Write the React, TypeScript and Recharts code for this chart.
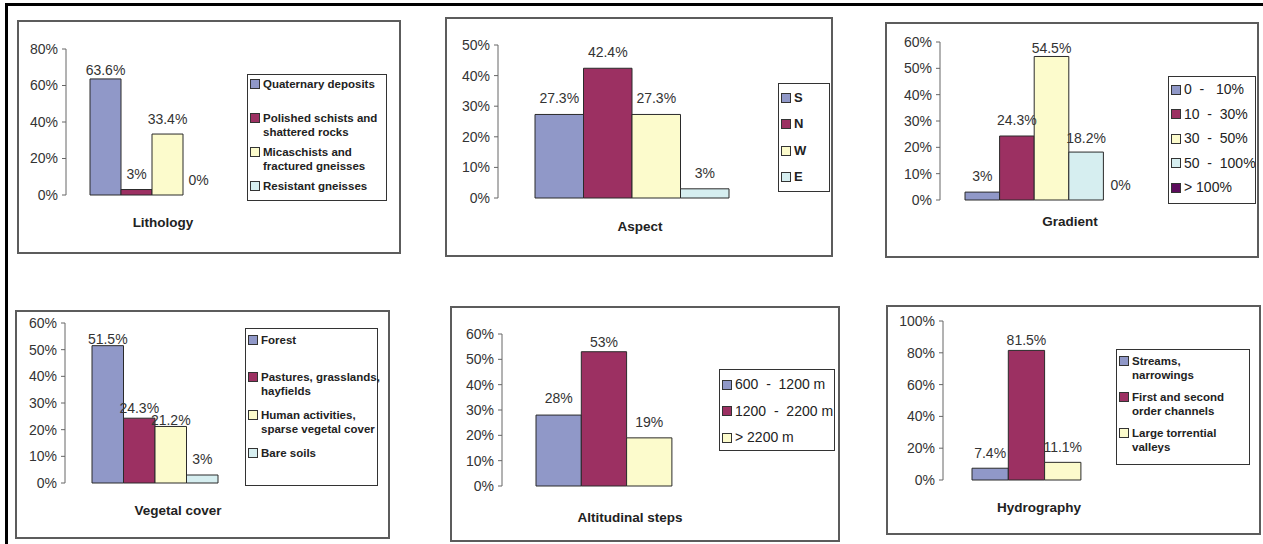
import { BarChart, Bar, XAxis, YAxis, LabelList, Rectangle } from 'recharts';

const FONT = '"Liberation Sans", Arial, sans-serif';
const COLORS = ['#9098c8', '#9c3062', '#fcfbcc', '#d6eef0', '#5c0c5c'];

// chart values
const lithologyClasses = ['Quaternary deposits', 'Polished schists and\nshattered rocks', 'Micaschists and\nfractured gneisses', 'Resistant gneisses'];
const lithologyShares = [63.6, 3, 33.4, 0];
const lithologyTicks = [0, 20, 40, 60, 80];

const aspectClasses = ['S', 'N', 'W', 'E'];
const aspectShares = [27.3, 42.4, 27.3, 3];
const aspectTicks = [0, 10, 20, 30, 40, 50];

const gradientClasses = ['0  -   10%', '10  -  30%', '30  -  50%', '50  -  100%', '> 100%'];
const gradientShares = [3, 24.3, 54.5, 18.2, 0];
const gradientTicks = [0, 10, 20, 30, 40, 50, 60];

const vegetalClasses = ['Forest', 'Pastures, grasslands,\nhayfields', 'Human activities,\nsparse vegetal cover', 'Bare soils'];
const vegetalShares = [51.5, 24.3, 21.2, 3];
const vegetalTicks = [0, 10, 20, 30, 40, 50, 60];

const altitudeClasses = ['600  -  1200 m', '1200  -  2200 m', '> 2200 m'];
const altitudeShares = [28, 53, 19];
const altitudeTicks = [0, 10, 20, 30, 40, 50, 60];

const hydroClasses = ['Streams,\nnarrowings', 'First and second\norder channels', 'Large torrential\nvalleys'];
const hydroShares = [7.4, 81.5, 11.1];
const hydroTicks = [0, 20, 40, 60, 80, 100];

interface Layout {
    box: [number, number, number, number];
    plot: [number, number, number, number];
    legend: [number, number, number, number];
    legendPad: number;
    legendStep: number;
    legendSize: number;
    legendBold: boolean;
    titleAt: [number, number];
    barSize: number;
    lift: number[];
}

const AXIS_W = 44;

const valueLabel = (lift: number) => (props: any) => {
    const { x, y, width, height, value } = props;
    // zero-height bars get a hairline from minPointSize; keep the label on the axis
    const topY = Number(y) + (Number(height) < 1 ? Number(height) : 0);
    return (
        <text
            x={Number(x) + Number(width) / 2}
            y={topY - lift}
            dy="0.35em"
            textAnchor="middle"
            fontSize={14}
            fill="#333"
            fontFamily={FONT}
        >
            {`${value}%`}
        </text>
    );
};

// empty classes are not drawn, only labelled
const barShape = (props: any) => (Number(props.value) === 0 ? <g /> : <Rectangle {...props} />);

function Panel({ title, classes, shares, ticks, layout }: {
    title: string; classes: string[]; shares: number[]; ticks: number[]; layout: Layout;
}) {
    const [bx, by, bw, bh] = layout.box;
    const [pl, pt, pr, pb] = layout.plot;
    const [lx, ly, lw, lh] = layout.legend;
    const row: Record<string, string | number> = { name: title };
    shares.forEach((v, i) => { row[`s${i}`] = v; });
    const top = ticks[ticks.length - 1];
    const lineH = Math.round(layout.legendSize * 1.22);

    return (
        <>
            <div style={{
                position: 'absolute', left: bx, top: by, width: bw, height: bh,
                border: '2px solid #5c5c5c', boxSizing: 'border-box', background: '#fff',
            }} />
            <div style={{ position: 'absolute', left: bx, top: by }}>
                <BarChart
                    width={bw}
                    height={bh}
                    data={[row]}
                    barGap={0}
                    margin={{ left: pl - bx - AXIS_W, top: pt - by, right: bx + bw - pr, bottom: by + bh - pb }}
                >
                    <XAxis dataKey="name" tick={false} tickLine={false} height={0} axisLine={{ stroke: '#8a8a8a' }} />
                    <XAxis xAxisId="frame" orientation="top" dataKey="name" tick={false} tickLine={false} height={0} axisLine={{ stroke: '#bdbdbd' }} />
                    <YAxis
                        type="number"
                        domain={[0, top]}
                        ticks={ticks}
                        interval={0}
                        width={AXIS_W}
                        tickSize={4}
                        tickMargin={4}
                        tickFormatter={(v: number) => `${v}%`}
                        tick={{ fontSize: 14, fill: '#333', fontFamily: FONT }}
                        tickLine={{ stroke: '#666' }}
                        axisLine={{ stroke: '#666' }}
                    />
                    <YAxis yAxisId="frame" orientation="right" type="number" domain={[0, top]} tick={false} tickLine={false} width={0} axisLine={{ stroke: '#bdbdbd' }} />
                    {classes.map((c, i) => (
                        <Bar
                            key={c}
                            dataKey={`s${i}`}
                            name={c}
                            fill={COLORS[i]}
                            stroke="#2a2a2a"
                            strokeWidth={1}
                            barSize={layout.barSize}
                            minPointSize={0.01}
                            shape={barShape}
                            isAnimationActive={false}
                        >
                            <LabelList dataKey={`s${i}`} content={valueLabel(layout.lift[i])} />
                        </Bar>
                    ))}
                </BarChart>
            </div>
            <div style={{
                position: 'absolute', left: lx, top: ly, width: lw, height: lh,
                border: '1.5px solid #333', boxSizing: 'border-box', background: '#fff',
            }}>
                {classes.map((c, i) => (
                    <div key={c} style={{
                        position: 'absolute', left: 2, top: layout.legendPad + i * layout.legendStep - lineH / 2 - 1.5,
                        display: 'flex', alignItems: 'flex-start',
                        fontFamily: FONT, fontSize: layout.legendSize, lineHeight: `${lineH}px`,
                        fontWeight: layout.legendBold ? 'bold' : 'normal', color: '#222',
                    }}>
                        <span style={{
                            width: 8, height: 8, marginTop: (lineH - 10) / 2, marginRight: 3, flex: 'none',
                            background: COLORS[i], border: '1px solid #333',
                        }} />
                        <span style={{ whiteSpace: 'pre' }}>{c}</span>
                    </div>
                ))}
            </div>
            <div style={{
                position: 'absolute', left: layout.titleAt[0] - 100, top: layout.titleAt[1] - 9, width: 200,
                textAlign: 'center', fontFamily: FONT, fontSize: 13.5, fontWeight: 'bold', color: '#222', lineHeight: '18px',
            }}>
                {title}
            </div>
        </>
    );
}

const lithologyLayout: Layout = {
    box: [17, 20, 384, 234], plot: [66, 49, 237, 195], legend: [247, 74, 140, 127],
    legendPad: 10, legendStep: 34.3, legendSize: 11.5, legendBold: true,
    titleAt: [163, 223], barSize: 31, lift: [9, 15, 15, 15],
};
const aspectLayout: Layout = {
    box: [445, 17, 388, 240], plot: [498, 45, 765, 198], legend: [778, 83, 52, 109],
    legendPad: 15, legendStep: 26.5, legendSize: 13, legendBold: true,
    titleAt: [640, 227], barSize: 48.5, lift: [16, 16, 16, 16],
};
const gradientLayout: Layout = {
    box: [885, 22, 374, 236], plot: [940, 42, 1163, 200], legend: [1168, 76, 88, 128],
    legendPad: 14, legendStep: 24.5, legendSize: 14, legendBold: false,
    titleAt: [1070, 222], barSize: 34.6, lift: [16, 16, 8, 14, 15],
};
const vegetalLayout: Layout = {
    box: [15, 310, 375, 229], plot: [65, 323, 245, 483], legend: [245, 328, 133, 158],
    legendPad: 12, legendStep: 37.7, legendSize: 11.5, legendBold: true,
    titleAt: [178, 511], barSize: 31.5, lift: [7, 10, 6, 16],
};
const altitudeLayout: Layout = {
    box: [450, 306, 390, 236], plot: [502, 334, 706, 486], legend: [719, 369, 116, 82],
    legendPad: 16, legendStep: 26.5, legendSize: 14, legendBold: false,
    titleAt: [630, 518], barSize: 45.3, lift: [17, 10, 16],
};
const hydroLayout: Layout = {
    box: [886, 305, 375, 230], plot: [943, 321, 1109, 480], legend: [1116, 349, 134, 116],
    legendPad: 12, legendStep: 36, legendSize: 11.5, legendBold: true,
    titleAt: [1039, 508], barSize: 36.3, lift: [15, 10, 15],
};

export default function App() {
    return (
        <div style={{ position: 'absolute', left: 0, top: 0, width: 1263, height: 544, background: '#fff', overflow: 'hidden' }}>
            {/* outer frame: top and left rules */}
            <div style={{ position: 'absolute', left: 5, top: 3, width: 1258, height: 3, background: '#000' }} />
            <div style={{ position: 'absolute', left: 5, top: 3, width: 3, height: 541, background: '#000' }} />
            <Panel title="Lithology" classes={lithologyClasses} shares={lithologyShares} ticks={lithologyTicks} layout={lithologyLayout} />
            <Panel title="Aspect" classes={aspectClasses} shares={aspectShares} ticks={aspectTicks} layout={aspectLayout} />
            <Panel title="Gradient" classes={gradientClasses} shares={gradientShares} ticks={gradientTicks} layout={gradientLayout} />
            <Panel title="Vegetal cover" classes={vegetalClasses} shares={vegetalShares} ticks={vegetalTicks} layout={vegetalLayout} />
            <Panel title="Altitudinal steps" classes={altitudeClasses} shares={altitudeShares} ticks={altitudeTicks} layout={altitudeLayout} />
            <Panel title="Hydrography" classes={hydroClasses} shares={hydroShares} ticks={hydroTicks} layout={hydroLayout} />
        </div>
    );
}
